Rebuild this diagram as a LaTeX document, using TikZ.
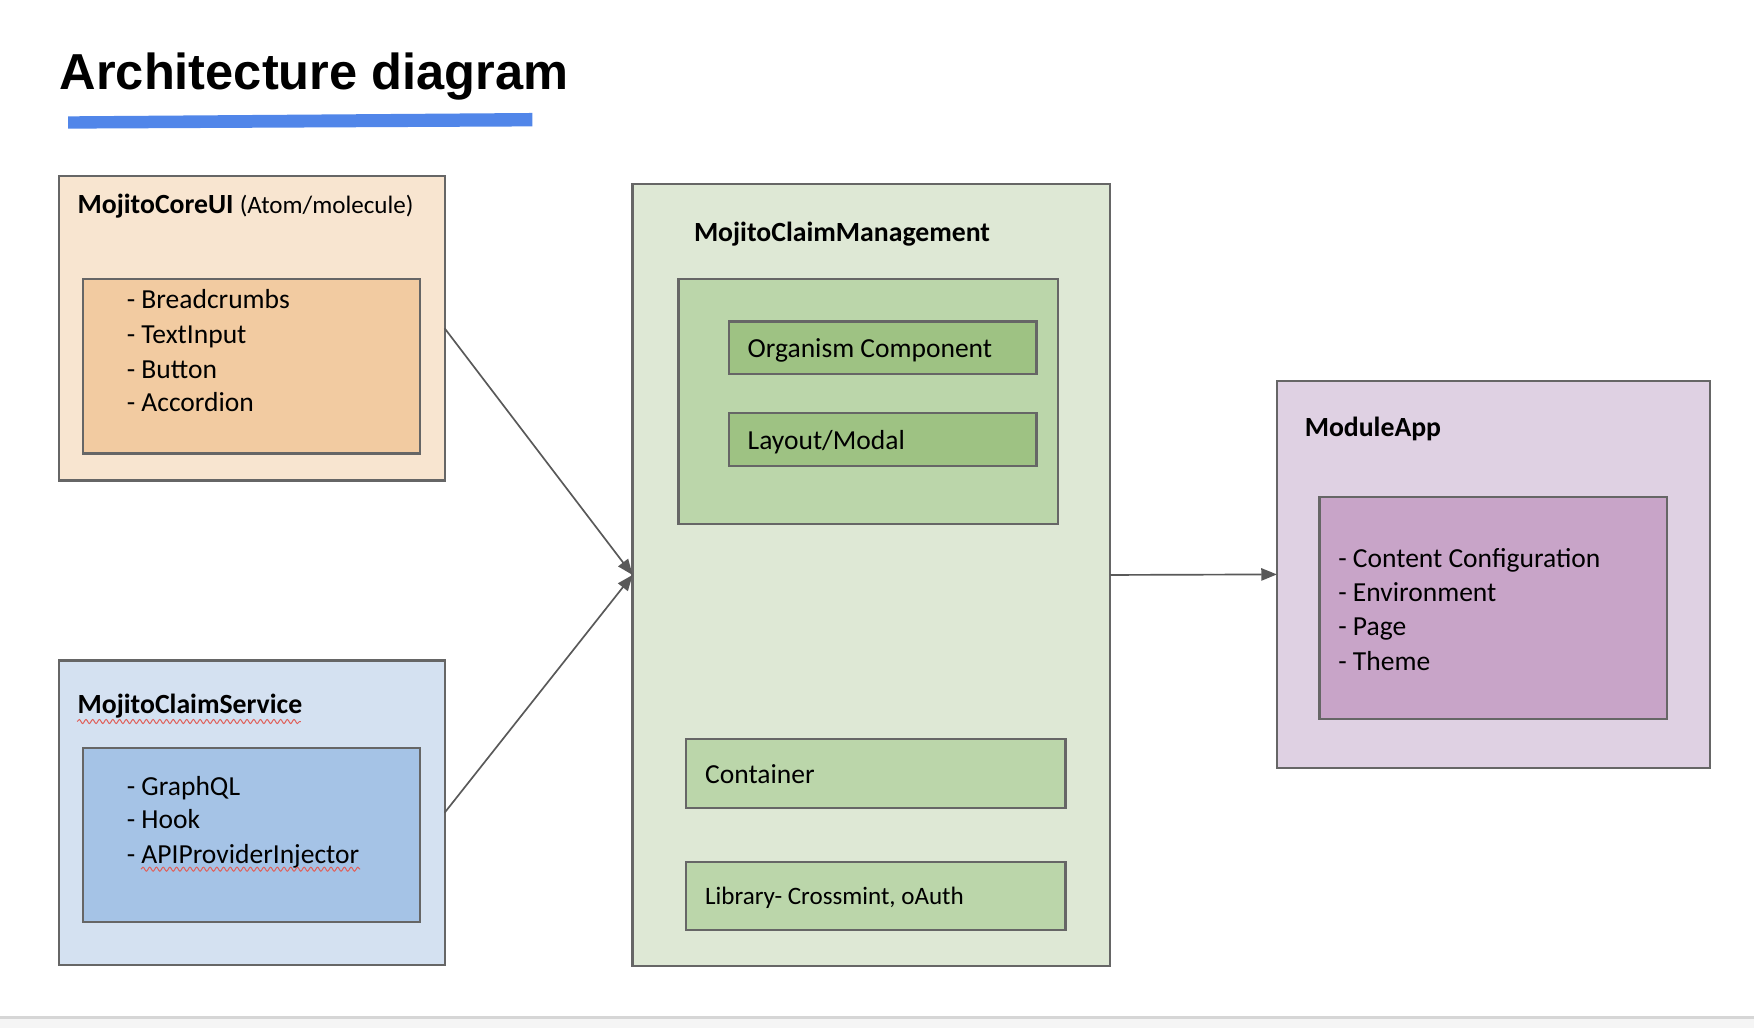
\documentclass[tikz,border=0pt]{standalone}
\usepackage{fontspec}
\setmainfont{Carlito}
\newfontfamily\titlefont{Liberation Sans}
\usetikzlibrary{arrows.meta,decorations.pathmorphing}
\definecolor{bordergray}{HTML}{666666}
\definecolor{arrowgray}{HTML}{595959}
\definecolor{orangeA}{HTML}{F8E5D0}
\definecolor{orangeB}{HTML}{F2CBA1}
\definecolor{blueA}{HTML}{D4E1F1}
\definecolor{blueB}{HTML}{A5C3E6}
\definecolor{greenA}{HTML}{DEE8D5}
\definecolor{greenB}{HTML}{BBD6AA}
\definecolor{greenC}{HTML}{9EC283}
\definecolor{purpleA}{HTML}{DFD1E3}
\definecolor{purpleB}{HTML}{C8A4C8}
\definecolor{barblue}{HTML}{5186E9}
\definecolor{spellred}{HTML}{E0605A}
\tikzset{
  box/.style={draw=bordergray,line width=1pt,rectangle,inner sep=0pt,outer sep=0pt,anchor=north west},
  lbl/.style={anchor=base west,inner sep=0pt,font=\fontsize{12.3}{14}\selectfont},
  hdr/.style={anchor=base west,inner sep=0pt,font=\fontsize{12.4}{14}\selectfont\bfseries},
  conn/.style={draw=arrowgray,line width=0.75pt,-{Triangle[length=7pt,width=5.5pt]}},
  spell/.style={draw=spellred,line width=0.45pt,decorate,decoration={snake,amplitude=0.9pt,segment length=3pt}}
}
\begin{document}
\begin{tikzpicture}[x=0.5pt,y=-0.5pt]
\useasboundingbox (0,0) rectangle (1568,919);
\fill[white] (0,0) rectangle (1568,919);
% bottom strip
\fill[black!4] (0,910) rectangle (1568,919);
\fill[black!16] (0,908.5) rectangle (1568,911);
% title
\node (title) [anchor=base west,inner sep=0pt,font=\fontsize{22.6}{26}\selectfont\titlefont\bfseries] at (53,80) {Architecture diagram};
\fill[barblue] (61,104) -- (476,101) -- (476,113) -- (61,115) -- cycle;

% MojitoCoreUI
\node (core) [box,fill=orangeA,minimum width=172.5pt,minimum height=136pt] at (52.5,157.5) {};
\node (coreIn) [box,fill=orangeB,minimum width=150.5pt,minimum height=78pt] at (74.5,249.5) {};
\node (coreT) [anchor=base west,inner sep=0pt] at (69,191) {\fontsize{12.4}{14}\selectfont\bfseries MojitoCoreUI \fontsize{11.2}{14}\selectfont\mdseries(Atom/molecule)};
\node (c1) [lbl] at (113,276) {- Breadcrumbs};
\node (c2) [lbl] at (113,307) {- TextInput};
\node (c3) [lbl] at (113,338) {- Button};
\node (c4) [lbl] at (113,368) {- Accordion};

% MojitoClaimService
\node (svc) [box,fill=blueA,minimum width=172.5pt,minimum height=136pt] at (52.5,590.5) {};
\node (svcIn) [box,fill=blueB,minimum width=150.5pt,minimum height=78pt] at (74.5,668.5) {};
\node (svcT) [hdr] at (69,638) {MojitoClaimService};
\coordinate (sw1a) at (69,645);
\coordinate (sw1b) at (269,645);
\draw[spell] (sw1a) -- (sw1b);
\node (s1) [lbl] at (113,711) {- GraphQL};
\node (s2) [lbl] at (113,741) {- Hook};
\node (s3) [lbl] at (113,772) {- APIProviderInjector};
\coordinate (sw2a) at (126,777);
\coordinate (sw2b) at (322,777);
\draw[spell] (sw2a) -- (sw2b);

% MojitoClaimManagement
\node (mgmt) [box,fill=greenA,minimum width=213.5pt,minimum height=349.5pt] at (565.5,164.5) {};
\node (mgmtT) [hdr] at (620,216) {MojitoClaimManagement};
\node (mgmtIn) [box,fill=greenB,minimum width=169.5pt,minimum height=109.5pt] at (606.5,249.5) {};
\node (org) [box,fill=greenC,minimum width=137.5pt,minimum height=23.5pt] at (651.5,287.5) {};
\node (orgT) [lbl] at (668,320) {Organism Component};
\node (lay) [box,fill=greenC,minimum width=137.5pt,minimum height=23.5pt] at (651.5,369.5) {};
\node (layT) [lbl] at (668,402) {Layout/Modal};
\node (cont) [box,fill=greenB,minimum width=169.5pt,minimum height=31pt] at (613.5,660.5) {};
\node (contT) [lbl] at (630,700) {Container};
\node (lib) [box,fill=greenB,minimum width=169.5pt,minimum height=30.5pt] at (613.5,770.5) {};
\node (libT) [anchor=base west,inner sep=0pt,font=\fontsize{11.2}{14}\selectfont] at (630,809) {Library- Crossmint, oAuth};

% ModuleApp
\node (app) [box,fill=purpleA,minimum width=193.5pt,minimum height=173pt] at (1141.5,340.5) {};
\node (appIn) [box,fill=purpleB,minimum width=155.5pt,minimum height=99pt] at (1179.5,444.5) {};
\node (appT) [hdr] at (1166,390) {ModuleApp};
\node (a1) [lbl] at (1196,507) {- Content Configuration};
\node (a2) [lbl] at (1196,538) {- Environment};
\node (a3) [lbl] at (1196,568) {- Page};
\node (a4) [lbl] at (1196,599) {- Theme};

% connectors
\draw[conn] (core.east) -- (mgmt.west);
\draw[conn] (svc.east) -- (mgmt.west);
\draw[conn] (mgmt.east) -- (app.west);
\end{tikzpicture}
\end{document}
